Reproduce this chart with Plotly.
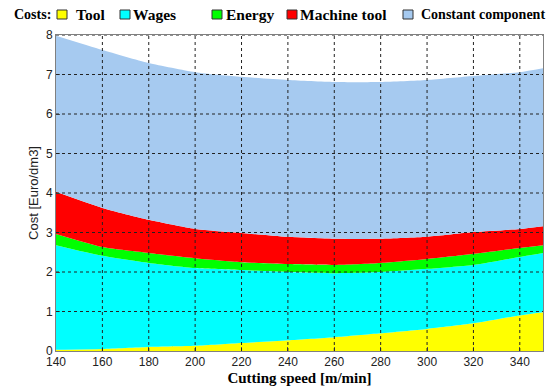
import plotly.graph_objects as go

# ---- data ----
speed = [140, 160, 180, 200, 220, 240, 260, 280, 300, 320, 340, 350]
tool = [0.03, 0.05, 0.10, 0.13, 0.20, 0.27, 0.35, 0.45, 0.56, 0.70, 0.90, 0.98]
wages = [2.65, 2.36, 2.13, 1.97, 1.85, 1.73, 1.62, 1.55, 1.52, 1.48, 1.48, 1.50]
energy = [0.28, 0.22, 0.25, 0.25, 0.20, 0.20, 0.21, 0.23, 0.25, 0.28, 0.23, 0.20]
machine_tool = [1.07, 0.99, 0.84, 0.74, 0.74, 0.69, 0.66, 0.61, 0.56, 0.55, 0.48, 0.48]
constant = [3.95, 4.00, 3.97, 3.97, 3.95, 3.97, 3.97, 3.97, 3.97, 3.95, 3.97, 4.00]

series_names = ["Tool", "Wages", "Energy", "Machine tool", "Constant component"]
series_values = [tool, wages, energy, machine_tool, constant]
series_colors = ["#ffff00", "#00ffff", "#00ff00", "#ff0000", "#a6caf0"]

x_ticks = [140, 160, 180, 200, 220, 240, 260, 280, 300, 320, 340]
y_ticks = [0, 1, 2, 3, 4, 5, 6, 7, 8]

W, H = 553, 389
L, R, T, B = 56, 10, 35, 38
pw = W - L - R
ph = H - T - B

fig = go.Figure()
for name, vals, col in zip(series_names, series_values, series_colors):
    fig.add_trace(go.Scatter(
        x=speed, y=vals, name=name, stackgroup="one", mode="none",
        fillcolor=col, line=dict(width=0, shape="spline", smoothing=0.6),
        showlegend=False, hoverinfo="x+y+name"))

# dotted grid drawn above the filled areas (MATLAB style)
grid_style = dict(color="#222222", width=1, dash="dot")
for xv in x_ticks[1:]:
    fig.add_shape(type="line", xref="x", yref="paper", x0=xv, x1=xv, y0=0, y1=1,
                  line=grid_style, layer="above")
for yv in y_ticks[1:]:
    fig.add_shape(type="line", xref="paper", yref="y", x0=0, x1=1, y0=yv, y1=yv,
                  line=grid_style, layer="above")

# custom legend row at top
def px_x(p):
    return (p - L) / pw
def px_y(p):
    return (H - B - p) / ph

fig.add_annotation(x=px_x(12), y=px_y(14), xref="paper", yref="paper",
                   text="<b>Costs:</b>", showarrow=False, xanchor="left",
                   yanchor="middle",
                   font=dict(family="Liberation Serif", size=14, color="black"))
box_left = [57, 120, 212, 287, 403]
text_left = [74, 131, 224, 298, 419]
text_size = [15.5, 15.5, 15.5, 15.5, 14]
for name, col, bx, tx, fs in zip(series_names, series_colors, box_left, text_left, text_size):
    fig.add_shape(type="rect", xref="paper", yref="paper",
                  x0=px_x(bx), x1=px_x(bx + 10), y0=px_y(19), y1=px_y(10),
                  fillcolor=col, line=dict(color="#333333", width=1))
    fig.add_annotation(x=px_x(tx), y=px_y(14), xref="paper", yref="paper",
                       text="<b>" + name + "</b>", showarrow=False,
                       xanchor="left", yanchor="middle",
                       font=dict(family="Liberation Serif", size=fs, color="black"))

axis_common = dict(
    showgrid=False, zeroline=False, showline=True, linecolor="#808080",
    linewidth=1, mirror=True, ticks="inside", ticklen=4, tickcolor="#555555",
    tickfont=dict(family="Liberation Sans", size=12, color="#222222"),
)
fig.update_xaxes(range=[140, 350], tickvals=x_ticks, **axis_common,
                 title=dict(text="<b>Cutting speed [m/min]</b>", standoff=4,
                            font=dict(family="Liberation Serif", size=15, color="black")))
fig.update_yaxes(range=[0, 8], tickvals=y_ticks, **axis_common,
                 title=dict(text="Cost [Euro/dm3]", standoff=4,
                            font=dict(family="Liberation Sans", size=13, color="#222222")))

fig.update_layout(
    width=W, height=H,
    margin=dict(l=L, r=R, t=T, b=B, autoexpand=False),
    plot_bgcolor="white", paper_bgcolor="white",
    showlegend=False,
)
fig.write_html("out.html", config={"displayModeBar": False},
               post_script="document.body.style.margin='0px';document.body.style.padding='0px';")
